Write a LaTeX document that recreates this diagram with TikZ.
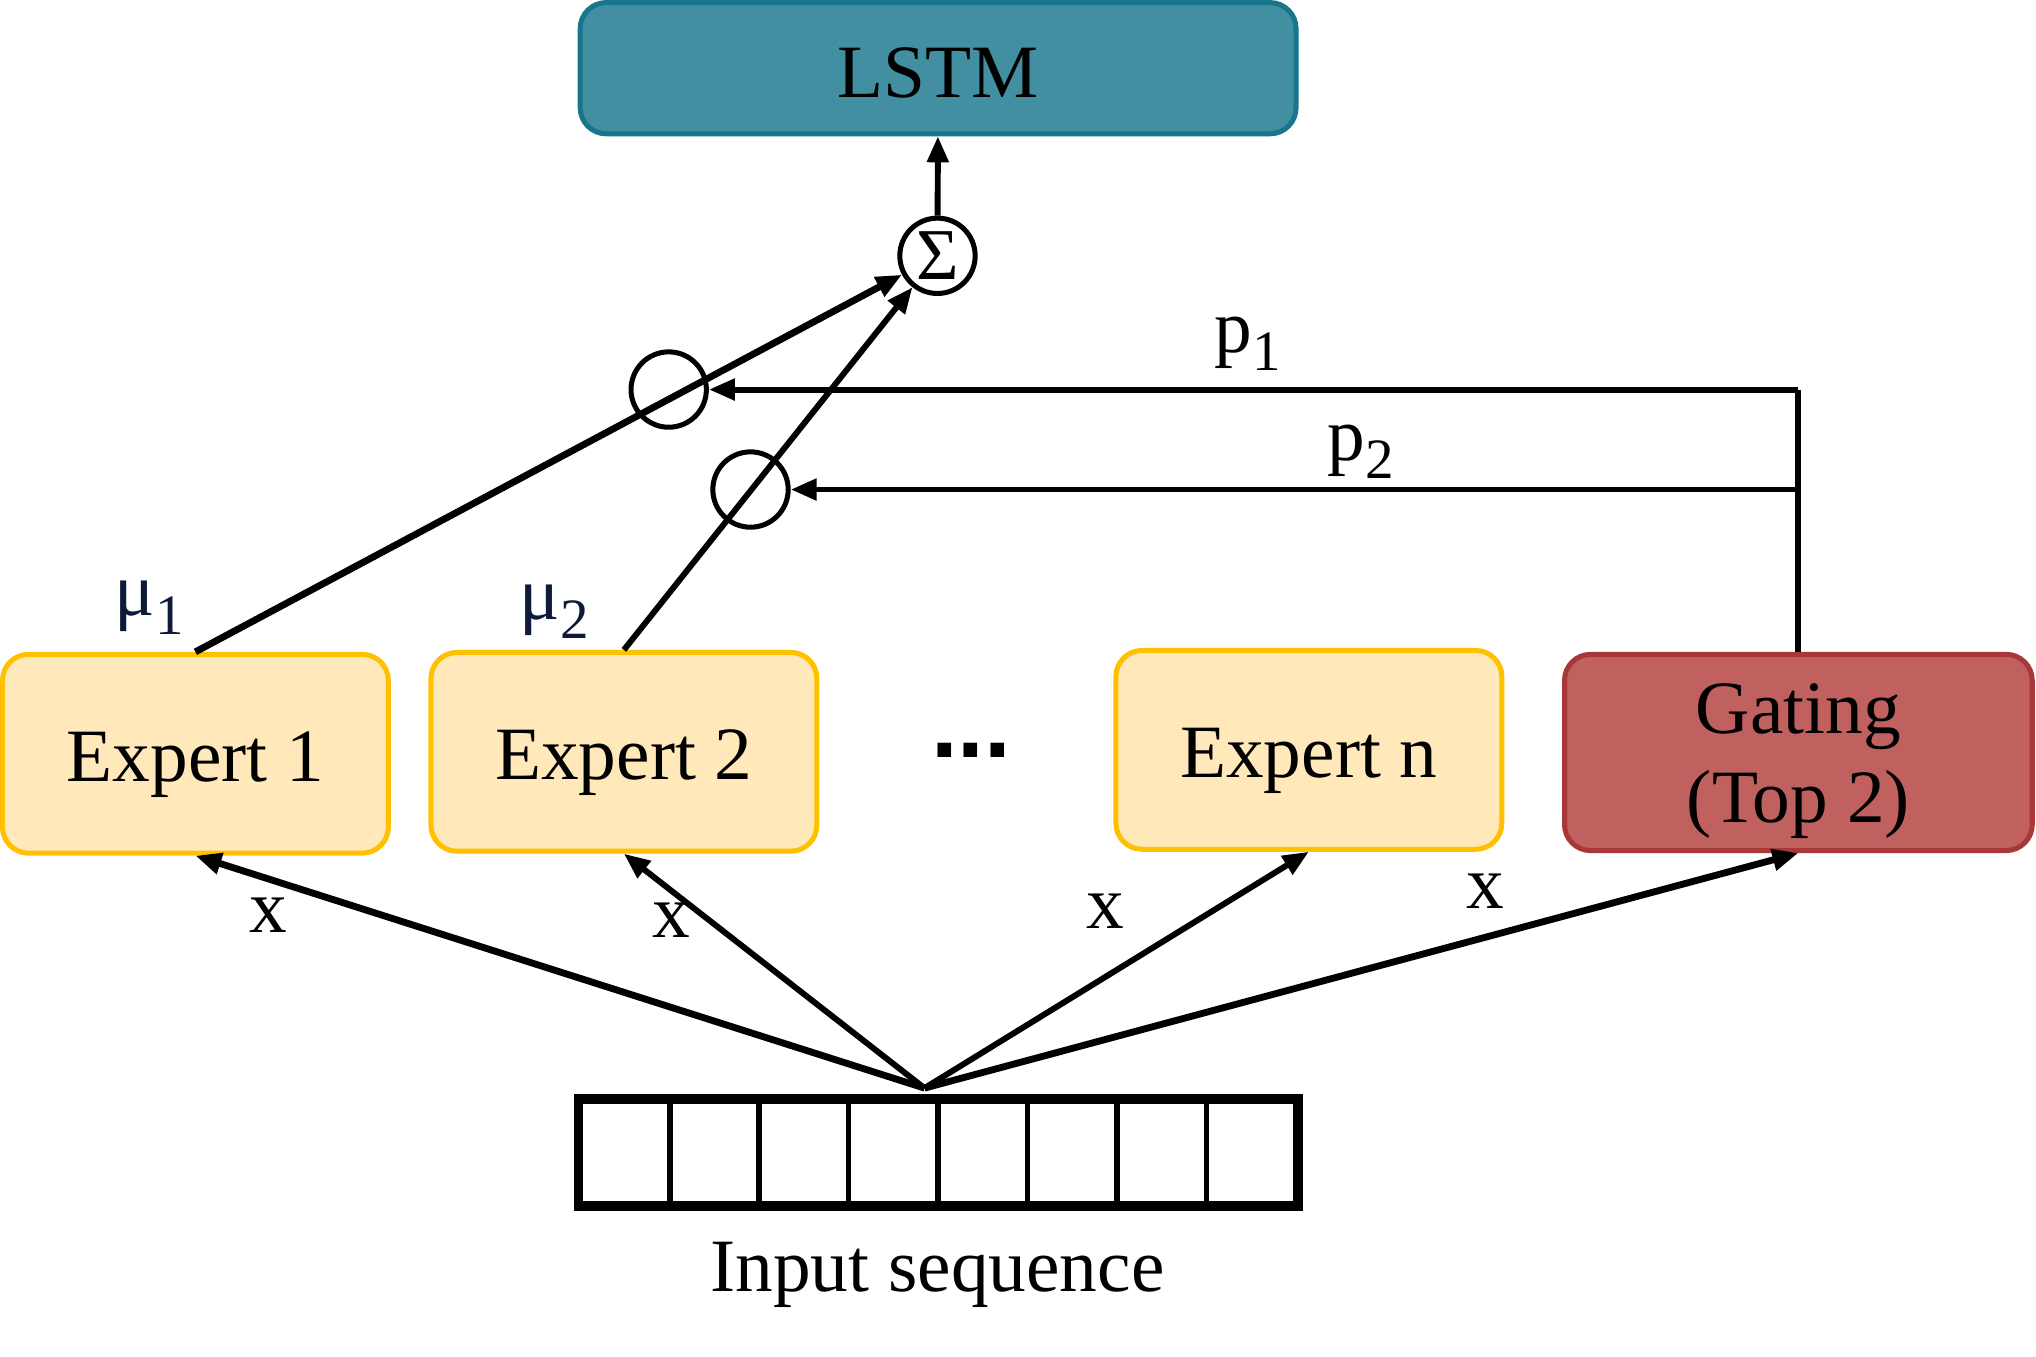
\documentclass[tikz,border=0pt]{standalone}
\usepackage{fontspec}
\setmainfont{Liberation Serif}
\newfontfamily\dotfont{Liberation Sans}
\usetikzlibrary{arrows.meta}
\definecolor{lstmfill}{RGB}{66,143,161}
\definecolor{lstmdraw}{RGB}{23,117,140}
\definecolor{expfill}{RGB}{255,232,186}
\definecolor{expdraw}{RGB}{255,192,0}
\definecolor{gatefill}{RGB}{192,96,95}
\definecolor{gatedraw}{RGB}{168,56,56}
\definecolor{mucol}{RGB}{14,26,58}
\newcommand{\lowsub}[1]{\raisebox{-4pt}{\fontsize{12.5}{12.5}\selectfont #1}}
\newcommand{\lift}[1]{\rule{0pt}{#1}}
\tikzset{
	box/.style={rounded corners=0.2cm, line width=1.1pt, align=center, inner sep=0pt,
		font=\fontsize{16.5}{19.5}\selectfont},
	expert/.style={box, fill=expfill, draw=expdraw, minimum width=2.97cm, minimum height=1.53cm},
	gatebox/.style={box, fill=gatefill, draw=gatedraw, minimum width=3.6cm, minimum height=1.51cm},
	lstmbox/.style={box, fill=lstmfill, draw=lstmdraw, minimum width=5.51cm, minimum height=1.01cm},
	mult/.style={circle, draw, line width=1.1pt, minimum size=0.58cm, inner sep=0pt},
	cell/.style={draw, line width=1.2pt, minimum width=0.689cm, minimum height=0.79cm, inner sep=0pt},
	conn/.style={line width=1.3pt, -{Triangle[length=0.2cm,width=0.16cm]}},
	lab/.style={font=\fontsize{16.5}{19.5}\selectfont, inner sep=0pt}
}
\begin{document}
\begin{tikzpicture}[x=0.01cm, y=-0.01cm]
	\useasboundingbox (0,0) rectangle (1568,1045);
	% boxes
	\node[lstmbox] (lstm) at (722.5,52.5) {\lift{0.8em}LSTM};
	\node[expert] (e1) at (150.5,580.5) {\lift{0.95em}Expert 1};
	\node[expert] (e2) at (480.5,579) {\lift{0.95em}Expert 2};
	\node[expert] (en) at (1008,577.5) {\lift{0.95em}Expert n};
	\node[gatebox] (gate) at (1385,579.5) {\lift{0.9em}Gating\\(Top 2)};
	\node[inner sep=0pt, font=\dotfont\fontsize{21}{24}\bfseries\selectfont] (dots) at (748,578) {...};
	% sum and products
	\node[mult, font=\fontsize{16}{18}\selectfont] (sum) at (722,197) {Σ};
	\node[mult] (m1) at (515,300) {};
	\node[mult] (m2) at (578,377) {};
	% input sequence
	\foreach \i in {0,...,7}
		\node[cell] (c\i) at ({447+68.875*(\i+0.5)},887.5) {};
	\draw[line width=1.8pt] (c0.north west) rectangle (c7.south east);
	\node[lab] (inp) at (722,982) {Input sequence};
	\coordinate (src) at (712,838);
	% connectors
	\draw[conn] (sum) -- (lstm);
	\draw[conn, line width=1.5pt] (e1.north) -- (sum);
	\draw[conn] (e2.north) -- (sum);
	\draw[conn, -] (gate.north) -- (gate.north |- m1.east);
	\draw[conn] (gate.north |- m1.east) -- (m1.east);
	\draw[conn] (gate.north |- m2.east) -- (m2.east);
	\draw[conn, line width=1.5pt] (src) -- (e1.south);
	\draw[conn] (src) -- (e2.south);
	\draw[conn] (src) -- (en.south);
	\draw[conn, line width=1.5pt] (src) -- (gate.south);
	% labels
	\node[lab, text=mucol] (mu1) at (115,468) {μ\lowsub{1}};
	\node[lab, text=mucol] (mu2) at (427,471) {μ\lowsub{2}};
	\node[lab] (p1) at (961,265) {p\lowsub{1}};
	\node[lab] (p2) at (1048,348) {p\lowsub{2}};
	\node[lab] (x1) at (207,705) {x};
	\node[lab] (x2) at (517,709) {x};
	\node[lab] (x3) at (851,702) {x};
	\node[lab] (x4) at (1144,686) {x};
\end{tikzpicture}
\end{document}
